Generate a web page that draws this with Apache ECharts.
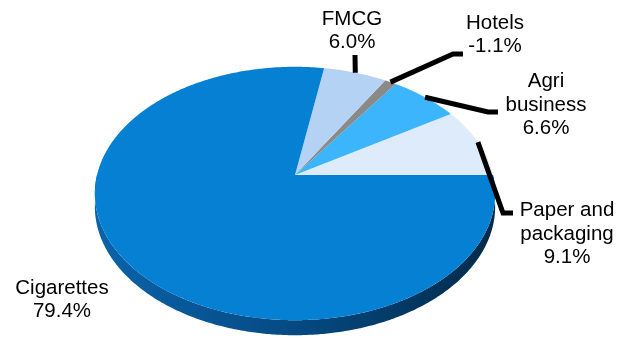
<!DOCTYPE html>
<html>
<head>
<meta charset="utf-8">
<script src="https://cdn.jsdelivr.net/npm/echarts@6/dist/echarts.min.js"></script>
<style>
  html, body { margin: 0; padding: 0; background: #fff; }
  #chart { width: 635px; height: 338px; }
</style>
</head>
<body>
<div id="chart"></div>
<script>
// data
const segments = ['Paper and packaging', 'Agri business', 'Hotels', 'FMCG', 'Cigarettes'];
const segmentLabels = ['Paper and\npackaging', 'Agri\nbusiness', 'Hotels', 'FMCG', 'Cigarettes'];
const shares = [9.1, 6.6, -1.1, 6.0, 79.4];

// styles / layout
const colors = ['#ddebfa', '#3cb5fc', '#8a8a8a', '#b4d2f4', '#0580d3'];
const labelPos = [[567, 234], [546, 105], [495, 35], [352, 31], [62, 300]];
const leaderBends = [
  [[503, 213], [513, 213]],
  [[488, 112], [498, 112]],
  [[453, 54], [463, 54]],
  [[355, 55]],
  []
];

// perspective ellipse (fake 3D pie)
const CX = 295, CY = 175, RX = 198, RY = 124, K = 0.146, DEPTH = 12.8;

function proj(t, drop) {
  const u = Math.cos(t), v = Math.sin(t), den = 1 + K * v;
  return [CX + RX * u / den, CY - RY * v / den + (drop || 0) / den];
}

function arc(t1, t2, drop) {
  const n = Math.max(2, Math.ceil((t2 - t1) * 180 / Math.PI * 2));
  const pts = [];
  for (let k = 0; k <= n; k++) {
    pts.push(proj(t1 + (t2 - t1) * k / n, drop));
  }
  return pts;
}

// slice angles, counterclockwise from 3 o'clock
const total = shares.reduce((s, v) => s + Math.abs(v), 0);
const angles = [];
let acc = 0;
shares.forEach((v) => {
  const a = acc / total * Math.PI * 2;
  acc += Math.abs(v);
  angles.push([a, acc / total * Math.PI * 2]);
});

const sideFill = new echarts.graphic.LinearGradient(0, 0, 1, 0, [
  { offset: 0, color: '#0b63aa' },
  { offset: 0.5, color: '#054a83' },
  { offset: 1, color: '#012a4a' }
]);

function wallItem(params, api) {
  const [a, b] = angles[params.dataIndex];
  const s = Math.max(a, Math.PI), e = Math.min(b, Math.PI * 2);
  if (e <= s) return { type: 'group', children: [] };
  const pts = arc(s, e, 0).concat(arc(s, e, DEPTH).reverse());
  return { type: 'polygon', shape: { points: pts }, style: { fill: sideFill } };
}

function faceItem(params, api) {
  const i = params.dataIndex;
  const [a, b] = angles[i];
  const pts = [[CX, CY]].concat(arc(a, b, 0));
  return { type: 'polygon', shape: { points: pts }, style: { fill: colors[i] } };
}

function labelItem(params, api) {
  const i = params.dataIndex;
  const mid = (angles[i][0] + angles[i][1]) / 2;
  const children = [];
  if (leaderBends[i].length) {
    children.push({
      type: 'polyline',
      shape: { points: [proj(mid, 0)].concat(leaderBends[i]) },
      style: { stroke: '#000', lineWidth: 5, fill: null, lineJoin: 'miter' }
    });
  }
  children.push({
    type: 'text',
    style: {
      text: segmentLabels[i] + '\n' + api.value(1).toFixed(1) + '%',
      x: labelPos[i][0],
      y: labelPos[i][1],
      align: 'center',
      verticalAlign: 'middle',
      fill: '#000',
      fontSize: 20.5,
      fontFamily: '"Liberation Sans", Arial, sans-serif',
      lineHeight: 23.5
    }
  });
  return { type: 'group', children: children };
}

const seriesData = shares.map((v, i) => [i, v]);

const chart = echarts.init(document.getElementById('chart'));
chart.setOption({
  backgroundColor: '#fff',
  animation: false,
  series: [
    { type: 'custom', name: 'side', coordinateSystem: 'none', renderItem: wallItem, data: seriesData, z: 1, silent: true },
    { type: 'custom', name: 'face', coordinateSystem: 'none', renderItem: faceItem, data: seriesData, z: 2, silent: true },
    { type: 'custom', name: 'labels', coordinateSystem: 'none', renderItem: labelItem, data: seriesData, z: 3, silent: true }
  ]
});
window.onresize = () => chart.resize();
</script>
</body>
</html>
